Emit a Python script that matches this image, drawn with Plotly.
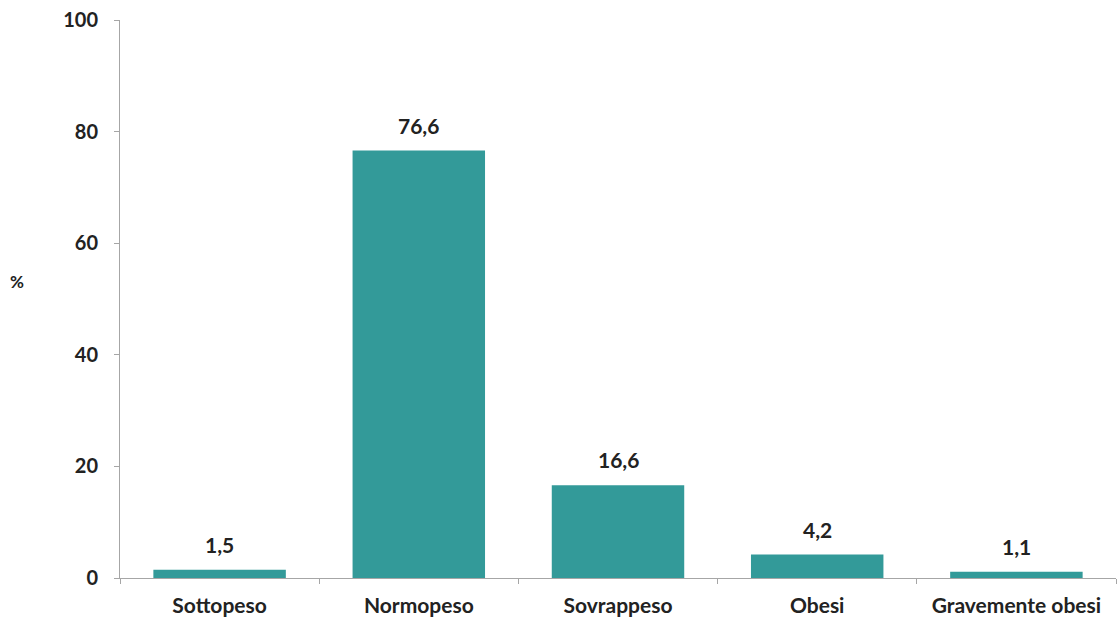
import plotly.graph_objects as go

categories = ["Sottopeso", "Normopeso", "Sovrappeso", "Obesi", "Gravemente obesi"]
values = [1.5, 76.6, 16.6, 4.2, 1.1]
value_labels = ["1,5", "76,6", "16,6", "4,2", "1,1"]
y_ticks = [0, 20, 40, 60, 80, 100]

bar_color = "#339A99"
axis_color = "#A6A6A6"
text_color = "#222222"
font_family = "Lato, 'Open Sans', sans-serif"

fig = go.Figure(
    go.Bar(
        x=categories,
        y=values,
        marker=dict(color=bar_color, line=dict(width=0)),
        hoverinfo="x+y",
    )
)

# value labels floating above each bar
for cat, val, lab in zip(categories, values, value_labels):
    fig.add_annotation(
        x=cat,
        y=val,
        text=lab,
        showarrow=False,
        yanchor="bottom",
        yshift=11,
        font=dict(family=font_family, size=21, color=text_color, weight="bold"),
    )

fig.update_layout(
    width=1118,
    height=620,
    margin=dict(l=120, r=2, t=20, b=42),
    paper_bgcolor="white",
    plot_bgcolor="white",
    bargap=0.335,
    showlegend=False,
    font=dict(family=font_family, color=text_color),
)

fig.update_xaxes(
    showline=True,
    linecolor=axis_color,
    linewidth=1,
    ticks="outside",
    tickson="boundaries",
    ticklen=5,
    tickcolor=axis_color,
    tickfont=dict(family=font_family, size=21, color=text_color, weight="bold"),
    ticklabelstandoff=9,
    showgrid=False,
    zeroline=False,
)

fig.update_yaxes(
    range=[0, 100],
    tickvals=y_ticks,
    showline=True,
    linecolor=axis_color,
    linewidth=1,
    ticks="outside",
    ticklen=5,
    tickcolor=axis_color,
    tickfont=dict(family=font_family, size=20, color=text_color, weight="bold"),
    ticklabelstandoff=12,
    showgrid=False,
    zeroline=False,
)

fig.add_annotation(
    text="%",
    xref="paper",
    yref="paper",
    x=-0.103,
    y=0.531,
    xanchor="center",
    yanchor="middle",
    showarrow=False,
    font=dict(family=font_family, size=17, color=text_color, weight="bold"),
)

fig.write_html("out.html")
